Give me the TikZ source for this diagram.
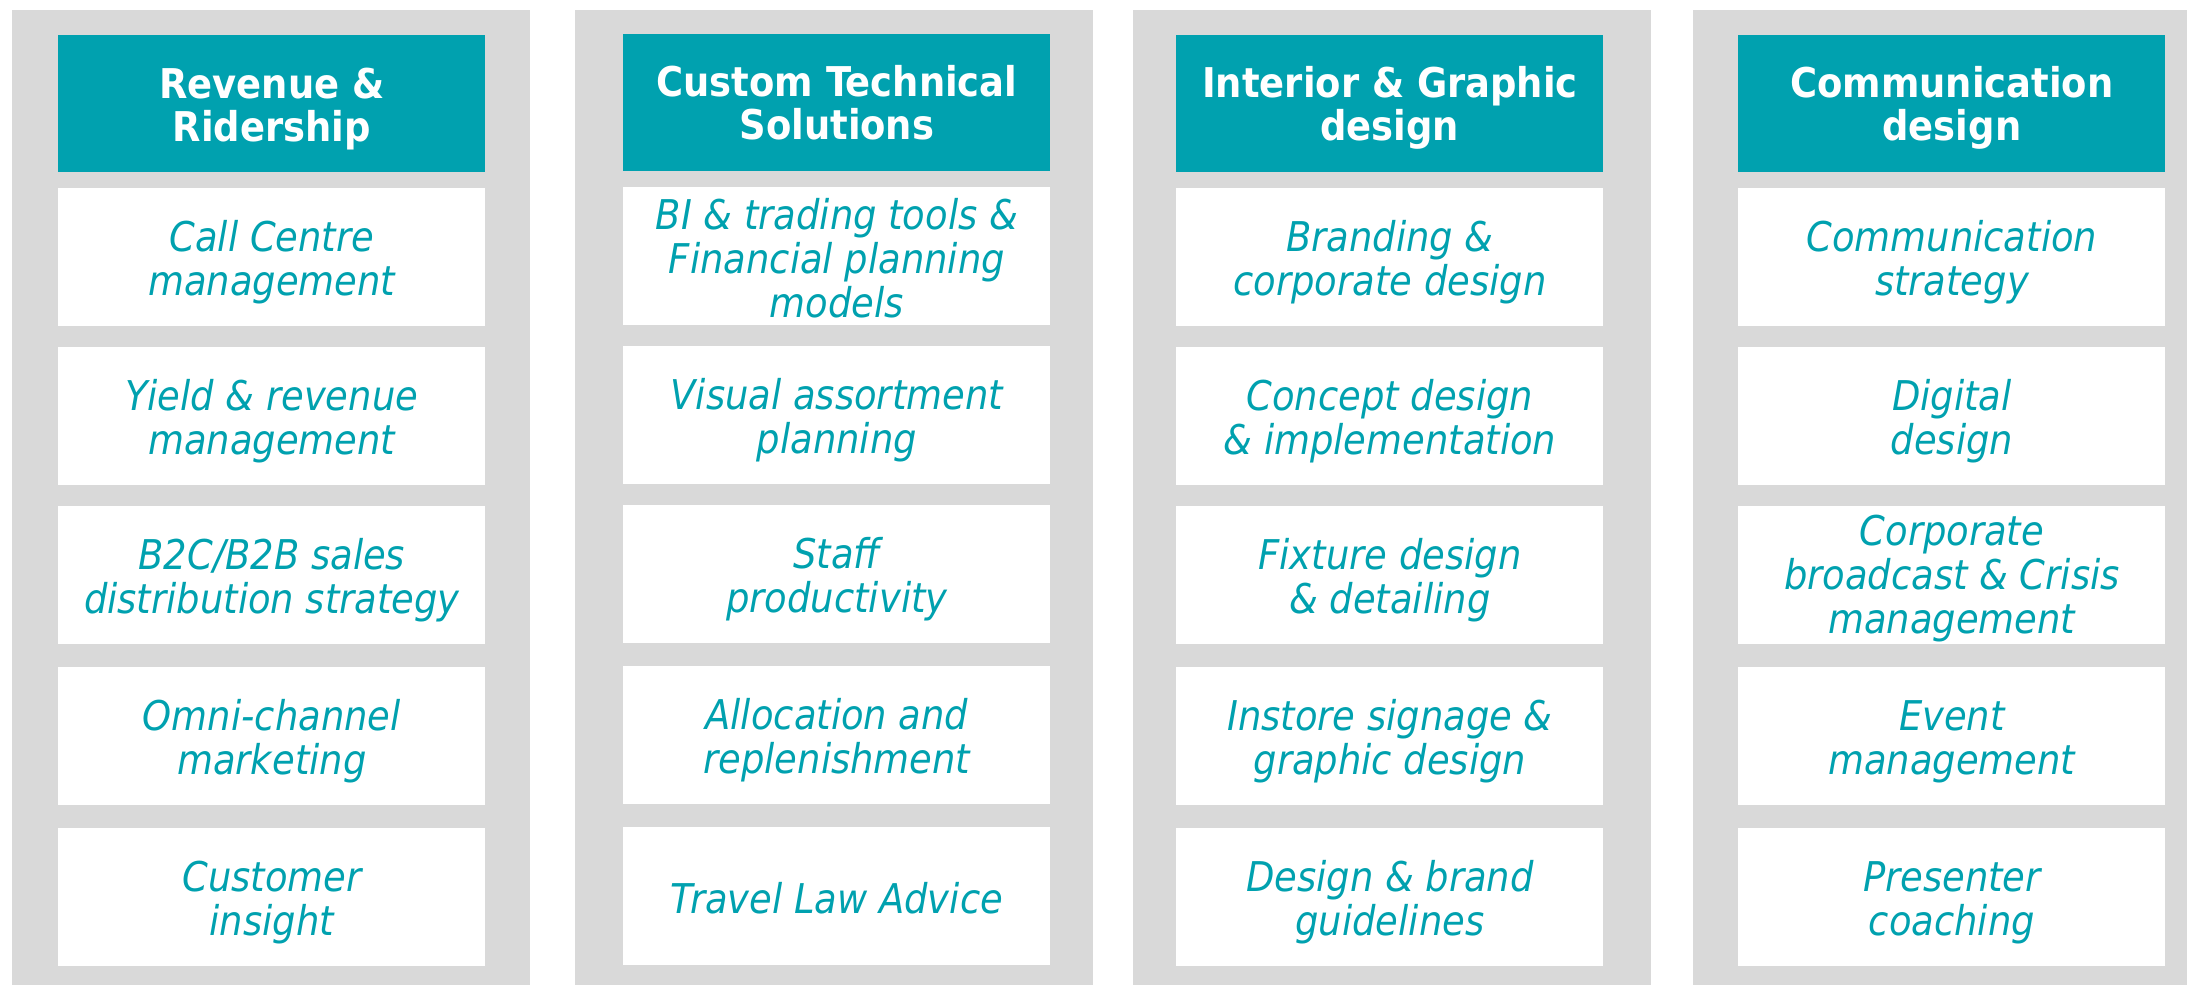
\documentclass[tikz,border=0pt]{standalone}
\usepackage{fontspec}
\setmainfont{DejaVu Sans Condensed}
\definecolor{tealc}{RGB}{0,161,175}
\definecolor{graybg}{RGB}{217,217,217}
\begin{document}
\begin{tikzpicture}[x=0.5pt,y=-0.5pt,
  colbg/.style={fill=graybg, draw=none, inner sep=0pt, anchor=north west, minimum width=259pt, minimum height=487.5pt},
  headbox/.style={fill=tealc, draw=none, inner sep=0pt, anchor=north west, minimum width=213.5pt, minimum height=68.5pt},
  itembox/.style={fill=white, draw=none, inner sep=0pt, anchor=north west, minimum width=213.5pt, minimum height=69pt},
  headtext/.style={inner sep=0pt, text=white, align=center, yshift=-2.8pt, font=\fontsize{20.5}{21.5}\selectfont\bfseries},
  itemtext/.style={inner sep=0pt, text=tealc, align=center, yshift=-2.6pt, font=\fontsize{20.5}{22}\selectfont\itshape},
  oneline/.style={yshift=1.9pt},
  threeline/.style={yshift=1.6pt}]
\useasboundingbox (0,0) rectangle (2187,985);
% grey columns
\node[colbg] (col1) at (12,10) {};
\node[colbg] (col2) at (575,10) {};
\node[colbg] (col3) at (1133,10) {};
\node[colbg, minimum width=247pt] (col4) at (1693,10) {};
% column 1
\node[headbox] (h1) at (58,35) {};
\node[itembox] (a1) at (58,188) {};
\node[itembox] (a2) at (58,347) {};
\node[itembox] (a3) at (58,506) {};
\node[itembox] (a4) at (58,667) {};
\node[itembox] (a5) at (58,828) {};
\node[headtext] (h1t) at (h1.center) {Revenue \&\\Ridership};
\node[itemtext] (a1t) at (a1.center) {Call Centre\\management};
\node[itemtext] (a2t) at (a2.center) {Yield \& revenue\\management};
\node[itemtext] (a3t) at (a3.center) {B2C/B2B sales\\distribution strategy};
\node[itemtext] (a4t) at (a4.center) {Omni-channel\\marketing};
\node[itemtext] (a5t) at (a5.center) {Customer\\insight};
% column 2
\node[headbox] (h2) at (623,34) {};
\node[itembox] (b1) at (623,187) {};
\node[itembox] (b2) at (623,346) {};
\node[itembox] (b3) at (623,505) {};
\node[itembox] (b4) at (623,666) {};
\node[itembox] (b5) at (623,827) {};
\node[headtext, yshift=2.8pt] (h2t) at (h2.center) {Custom Technical\\Solutions};
\node[itemtext, threeline] (b1t) at (b1.center) {BI \& trading tools \&\\Financial planning\\models};
\node[itemtext] (b2t) at (b2.center) {Visual assortment\\planning};
\node[itemtext] (b3t) at (b3.center) {Staff\\productivity};
\node[itemtext] (b4t) at (b4.center) {Allocation and\\replenishment};
\node[itemtext, oneline] (b5t) at (b5.center) {Travel Law Advice};
% column 3
\node[headbox] (h3) at (1176,35) {};
\node[itembox] (c1) at (1176,188) {};
\node[itembox] (c2) at (1176,347) {};
\node[itembox] (c3) at (1176,506) {};
\node[itembox] (c4) at (1176,667) {};
\node[itembox] (c5) at (1176,828) {};
\node[headtext, yshift=0.6pt] (h3t) at (h3.center) {Interior \& Graphic\\design};
\node[itemtext] (c1t) at (c1.center) {Branding \&\\corporate design};
\node[itemtext] (c2t) at (c2.center) {Concept design\\\& implementation};
\node[itemtext] (c3t) at (c3.center) {Fixture design\\\& detailing};
\node[itemtext] (c4t) at (c4.center) {Instore signage \&\\graphic design};
\node[itemtext] (c5t) at (c5.center) {Design \& brand\\guidelines};
% column 4
\node[headbox] (h4) at (1738,35) {};
\node[itembox] (d1) at (1738,188) {};
\node[itembox] (d2) at (1738,347) {};
\node[itembox] (d3) at (1738,506) {};
\node[itembox] (d4) at (1738,667) {};
\node[itembox] (d5) at (1738,828) {};
\node[headtext, yshift=0.6pt] (h4t) at (h4.center) {Communication\\design};
\node[itemtext] (d1t) at (d1.center) {Communication\\strategy};
\node[itemtext] (d2t) at (d2.center) {Digital\\design};
\node[itemtext, yshift=1.2pt] (d3t) at (d3.center) {Corporate\\broadcast \& Crisis\\management};
\node[itemtext] (d4t) at (d4.center) {Event\\management};
\node[itemtext] (d5t) at (d5.center) {Presenter\\coaching};
\end{tikzpicture}
\end{document}
